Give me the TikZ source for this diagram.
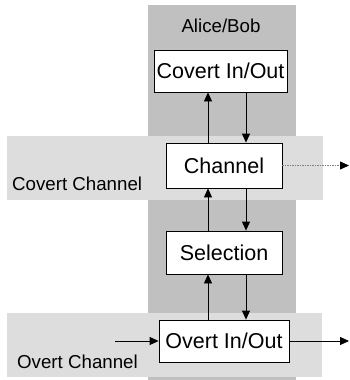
\documentclass[tikz,border=0pt]{standalone}
\usepackage{fontspec}
\setmainfont{Liberation Sans}
\usetikzlibrary{arrows.meta}
\definecolor{darkbg}{RGB}{192,192,192}
\definecolor{lightbg}{RGB}{221,221,221}
\tikzset{
  boxnode/.style={draw=black, line width=0.8pt, fill=white, inner sep=0pt,
    font=\fontsize{21.5}{24}\selectfont},
  lbl/.style={inner sep=0pt, font=\fontsize{18.7}{22}\selectfont},
  arr/.style={line width=0.8pt, -{Triangle[length=9pt,width=8pt]}},
  dotline/.style={line width=0.9pt, gray, dash pattern=on 1.5pt off 1pt}
}
\begin{document}
\begin{tikzpicture}[x=1pt,y=-1pt]
\useasboundingbox (0,0) rectangle (349,380);
% backgrounds
\fill[darkbg] (148,5) rectangle (296,380);
\fill[lightbg] (7,136) rectangle (323,200);
\fill[lightbg] (7,313) rectangle (322,377);
% labels
\node[lbl, anchor=base] (alice) at (221,32) {Alice/Bob};
\node[lbl, anchor=base west] (covlbl) at (12,190) {Covert Channel};
\node[lbl, anchor=base west] (ovlbl) at (17,368) {Overt Channel};
% boxes
\node[boxnode, minimum width=133pt, minimum height=42pt] (cov) at (220.5,71) {Covert In/Out};
\node[boxnode, minimum width=116pt, minimum height=45pt] (chan) at (224,165.5) {Channel};
\node[boxnode, minimum width=116pt, minimum height=43pt] (sel) at (224,252.5) {Selection};
\node[boxnode, minimum width=130pt, minimum height=42pt] (ovt) at (224,341) {Overt In/Out};
% helper coordinates
\coordinate (ux) at (208,0);
\coordinate (dx) at (246,0);
\coordinate (chanmid) at (340,165.5);
\coordinate (chanout) at (349,165.5);
\coordinate (ovtin) at (115,341);
\coordinate (ovtout) at (349,341);
% vertical arrows
\draw[arr] (chan.north -| ux) -- (cov.south -| ux);
\draw[arr] (cov.south -| dx) -- (chan.north -| dx);
\draw[arr] (sel.north -| ux) -- (chan.south -| ux);
\draw[arr] (chan.south -| dx) -- (sel.north -| dx);
\draw[arr] (ovt.north -| ux) -- (sel.south -| ux);
\draw[arr] (sel.south -| dx) -- (ovt.north -| dx);
% horizontal arrows
\draw[dotline] (chan.east) -- (chanmid);
\draw[arr] (chanmid) -- (chanout);
\draw[arr] (ovtin) -- (ovt.west);
\draw[arr] (ovt.east) -- (ovtout);
\end{tikzpicture}
\end{document}
